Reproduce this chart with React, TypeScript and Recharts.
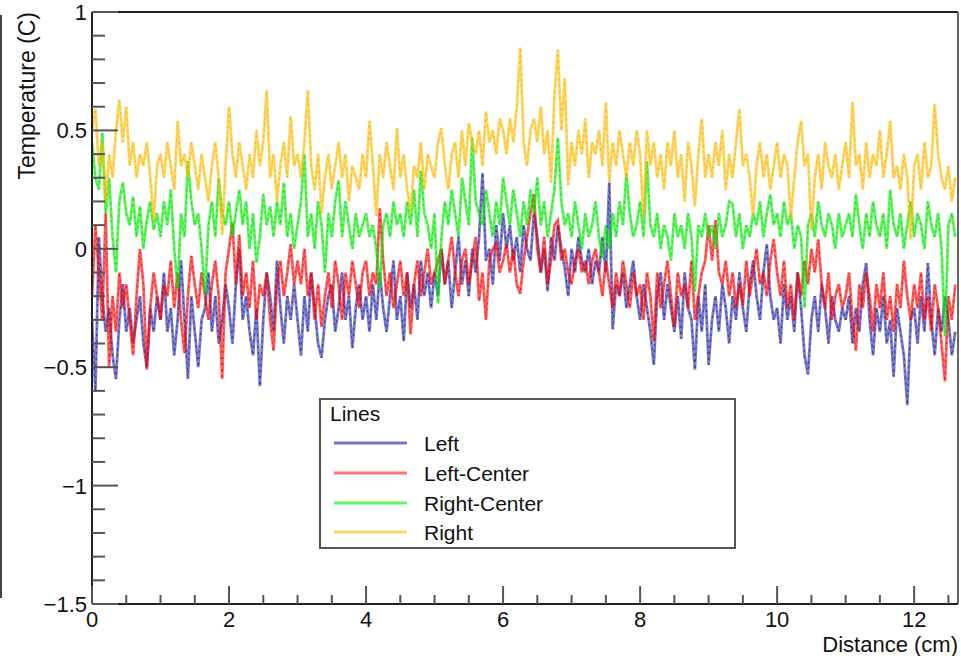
import React from 'react';
import { LineChart, Line, XAxis, YAxis, ReferenceLine } from 'recharts';

// Samples are taken every 0.05 cm along the probe.
const SAMPLE_STEP_CM = 0.05;

const leftTemps = [
  -0.3, -0.6, 0.05, -0.2, -0.35, -0.25, -0.45, -0.55, -0.3, -0.15, -0.35, -0.25, -0.4, -0.3, -0.2, -0.4, -0.5, -0.25, -0.35, -0.2,
  -0.3, -0.1, -0.35, -0.25, -0.45, -0.3, -0.05, -0.3, -0.55, -0.2, -0.35, -0.5, -0.3, -0.25, -0.1, -0.35, -0.2, -0.4, -0.3, -0.15,
  -0.25, -0.4, -0.15, 0.0, -0.3, -0.2, -0.35, -0.45, -0.25, -0.58, -0.3, -0.1, -0.2, -0.35, -0.05, -0.25, -0.4, -0.2, -0.3, -0.15,
  -0.3, -0.45, -0.2, -0.35, -0.1, -0.25, -0.4, -0.46, -0.3, -0.2, -0.15, -0.35, -0.25, -0.1, -0.3, -0.2, -0.42, -0.25, -0.15, -0.3,
  -0.2, -0.35, -0.15, -0.3, -0.1, -0.25, -0.35, -0.2, -0.05, -0.3, -0.2, -0.39, -0.1, -0.25, -0.15, -0.3, -0.05, -0.2, -0.1, -0.25,
  -0.1, -0.2, 0.0, -0.15, -0.05, -0.25, -0.1, 0.05, -0.15, -0.05, -0.2, 0.0, -0.1, 0.05, 0.32, -0.05, 0.0, -0.15, 0.1, -0.05,
  0.15, 0.0, 0.1, -0.05, 0.05, -0.1, 0.1, 0.0, -0.05, 0.15, 0.05, -0.1, 0.0, -0.18, 0.05, -0.05, 0.1, 0.0, -0.08, -0.2,
  0.0, -0.1, 0.05, -0.05, -0.1, 0.0, -0.15, -0.05, -0.1, 0.05, -0.1, 0.28, -0.34, -0.15, -0.2, -0.1, -0.25, -0.15, -0.05, -0.2,
  -0.3, -0.15, -0.25, -0.35, -0.49, -0.2, -0.1, -0.3, -0.15, -0.25, -0.35, -0.2, -0.38, -0.1, -0.25, -0.3, -0.51, -0.2, -0.35, -0.15,
  -0.49, -0.3, -0.2, -0.35, -0.15, -0.25, -0.4, -0.2, -0.3, -0.1, -0.25, -0.35, -0.15, -0.05, -0.2, -0.3, -0.1, 0.02, -0.2, -0.3,
  -0.25, -0.4, -0.15, -0.3, -0.2, -0.35, -0.1, -0.25, -0.45, -0.53, -0.3, -0.2, -0.35, -0.15, -0.25, -0.4, -0.2, -0.3, -0.35, -0.25,
  -0.3, -0.2, -0.4, -0.25, -0.35, -0.15, -0.06, -0.3, -0.45, -0.25, -0.35, -0.2, -0.4, -0.3, -0.54, -0.25, -0.35, -0.45, -0.66, -0.3,
  -0.25, -0.4, -0.2, -0.35, -0.06, -0.3, -0.45, -0.25, -0.35, -0.2, -0.3, -0.45, -0.35,
];

const leftCenterTemps = [
  -0.2, 0.1, -0.1, -0.3, 0.15, -0.5, -0.2, -0.35, -0.1, -0.25, -0.15, -0.3, -0.45, -0.2, 0.0, -0.15, -0.51, -0.25, -0.1, -0.2,
  -0.3, -0.15, -0.2, -0.05, -0.25, -0.1, -0.3, -0.44, -0.2, -0.03, -0.15, -0.25, -0.1, -0.2, -0.3, -0.15, -0.05, -0.2, -0.55, -0.1,
  0.0, 0.11, -0.15, 0.06, -0.2, -0.1, -0.25, -0.05, -0.3, -0.15, -0.2, -0.1, -0.3, -0.43, -0.15, -0.05, -0.2, -0.1, 0.02, -0.15,
  -0.05, -0.15, 0.0, -0.2, -0.1, -0.3, -0.15, -0.33, -0.2, -0.1, -0.25, -0.05, -0.15, -0.3, -0.1, -0.2, -0.05, -0.15, -0.25, -0.1,
  -0.05, -0.2, -0.1, -0.15, 0.17, -0.05, -0.2, -0.1, -0.25, -0.15, -0.05, -0.2, -0.1, -0.36, -0.15, -0.05, -0.2, -0.1, 0.0, -0.15,
  -0.1, -0.05, 0.0, -0.15, -0.05, 0.05, -0.1, -0.2, -0.05, 0.0, -0.15, -0.05, 0.05, -0.22, -0.1, -0.3, -0.05, 0.0, 0.02, -0.1,
  -0.05, 0.02, -0.1, 0.0, -0.15, -0.19, -0.05, 0.05, 0.15, 0.23, 0.0, -0.1, 0.05, -0.15, -0.05, 0.1, 0.12, -0.05, 0.0, -0.1,
  -0.15, -0.05, 0.0, -0.1, -0.05, -0.15, -0.05, 0.0, -0.1, -0.2, -0.05, -0.15, -0.25, -0.1, -0.2, -0.05, -0.15, -0.25, -0.1, -0.2,
  -0.15, -0.3, -0.1, -0.2, -0.39, -0.1, -0.25, -0.15, -0.05, -0.2, -0.33, -0.1, -0.2, -0.15, -0.25, -0.05, -0.3, -0.2, -0.1, -0.05,
  0.1, -0.05, 0.12, -0.1, -0.15, -0.05, -0.2, -0.1, -0.25, -0.15, -0.24, -0.05, -0.2, -0.1, 0.0, -0.15, -0.1, -0.2, -0.05, 0.04,
  -0.1, -0.2, -0.05, -0.25, -0.15, -0.3, -0.1, -0.2, -0.05, -0.15, 0.0, -0.1, 0.04, -0.15, -0.25, -0.1, -0.3, -0.2, -0.15, -0.25,
  -0.2, -0.1, -0.3, -0.43, -0.15, -0.25, -0.1, -0.2, -0.35, -0.15, -0.25, -0.1, -0.3, -0.2, -0.35, -0.15, -0.25, -0.05, -0.2, -0.3,
  -0.15, -0.25, -0.1, -0.3, -0.2, -0.35, -0.15, -0.25, -0.4, -0.56, -0.2, -0.3, -0.15,
];

const rightCenterTemps = [
  0.45, 0.3, 0.25, 0.49, 0.15, 0.3, 0.05, -0.1, 0.2, 0.28, 0.15, 0.1, 0.22, 0.05, 0.18, 0.0, 0.12, 0.2, 0.08, 0.15,
  0.05, 0.2, 0.1, 0.25, 0.0, -0.17, 0.15, 0.05, 0.37, 0.2, 0.1, 0.15, 0.0, -0.19, 0.1, 0.2, 0.05, 0.3, 0.15, 0.1,
  0.2, 0.05, 0.15, 0.25, 0.1, 0.2, 0.0, 0.15, -0.06, 0.05, 0.23, 0.1, 0.18, 0.05, 0.2, 0.1, 0.28, 0.05, 0.15, 0.0,
  0.1, 0.2, 0.4, 0.05, 0.15, 0.0, 0.2, 0.1, -0.1, 0.15, 0.05, 0.2, 0.29, 0.05, 0.2, 0.1, 0.0, 0.15, 0.05, 0.1,
  0.15, 0.05, 0.1, 0.0, -0.17, 0.1, 0.15, 0.05, 0.2, 0.1, 0.15, 0.05, 0.2, 0.1, 0.25, 0.05, 0.33, 0.15, 0.1, 0.0,
  0.15, -0.23, 0.05, 0.2, 0.1, 0.25, 0.15, 0.05, 0.3, 0.2, 0.1, 0.47, 0.2, 0.15, 0.1, 0.25, 0.15, 0.05, 0.2, 0.1,
  0.3, 0.2, 0.1, 0.25, 0.15, 0.05, 0.2, 0.1, 0.25, 0.15, 0.3, 0.1, 0.2, 0.05, 0.15, 0.25, 0.47, 0.2, 0.1, 0.15,
  0.05, 0.2, 0.1, 0.0, 0.15, 0.05, 0.1, 0.2, 0.05, -0.04, 0.1, 0.0, 0.15, 0.05, 0.2, 0.1, 0.32, 0.15, 0.05, 0.1,
  0.2, 0.05, 0.37, 0.1, 0.05, 0.15, 0.0, 0.1, 0.05, -0.05, 0.15, 0.05, 0.1, 0.0, 0.15, 0.05, -0.18, 0.1, 0.05, 0.15,
  0.05, 0.1, 0.0, 0.15, 0.05, 0.1, 0.2, 0.19, 0.05, 0.15, 0.0, 0.1, 0.05, 0.15, 0.1, 0.2, 0.05, 0.15, 0.23, 0.1,
  0.15, 0.05, 0.2, 0.1, 0.15, 0.0, 0.1, 0.05, -0.25, 0.1, 0.15, 0.05, 0.2, 0.1, 0.05, 0.15, 0.1, 0.0, 0.15, 0.05,
  0.1, 0.15, 0.05, 0.23, 0.1, 0.0, 0.15, 0.05, 0.2, 0.1, 0.05, 0.15, 0.0, 0.25, 0.1, 0.05, 0.15, 0.0, 0.1, 0.2,
  0.05, 0.15, 0.1, 0.0, 0.2, 0.1, 0.05, 0.15, 0.0, -0.37, 0.1, 0.15, 0.05,
];

const rightTemps = [
  0.5, 0.59, 0.35, 0.45, 0.2, 0.4, 0.3, 0.5, 0.63, 0.45, 0.6, 0.35, 0.45, 0.3, 0.4, 0.35, 0.45, 0.3, 0.12, 0.35,
  0.4, 0.3, 0.45, 0.35, 0.25, 0.54, 0.35, 0.4, 0.3, 0.45, 0.35, 0.25, 0.4, 0.3, 0.2, 0.35, 0.45, 0.3, 0.06, 0.35,
  0.6, 0.4, 0.3, 0.45, 0.35, 0.25, 0.4, 0.3, 0.5, 0.35, 0.45, 0.67, 0.3, 0.4, 0.2, 0.35, 0.45, 0.3, 0.56, 0.35,
  0.4, 0.3, 0.45, 0.67, 0.35, 0.25, 0.4, 0.15, 0.3, 0.4, 0.25, 0.35, 0.45, 0.3, 0.4, 0.2, 0.35, 0.3, 0.25, 0.4,
  0.3, 0.54, 0.35, 0.14, 0.4, 0.3, 0.45, 0.35, 0.25, 0.51, 0.3, 0.4, 0.25, 0.16, 0.35, 0.3, 0.45, 0.25, 0.4, 0.35,
  0.3, 0.45, 0.51, 0.35, 0.25, 0.4, 0.45, 0.3, 0.5, 0.35, 0.53, 0.45, 0.4, 0.5, 0.35, 0.58, 0.45, 0.5, 0.4, 0.55,
  0.5, 0.4, 0.55, 0.45, 0.6, 0.85, 0.45, 0.35, 0.5, 0.55, 0.45, 0.6, 0.4, 0.5, 0.28, 0.65, 0.84, 0.5, 0.72, 0.27,
  0.45, 0.35, 0.5, 0.4, 0.55, 0.3, 0.45, 0.4, 0.5, 0.35, 0.62, 0.28, 0.45, 0.35, 0.5, 0.4, 0.3, 0.45, 0.35, 0.5,
  0.4, 0.13, 0.5, 0.35, 0.45, 0.3, 0.4, 0.25, 0.45, 0.35, 0.5, 0.3, 0.4, 0.2, 0.45, 0.35, 0.18, 0.4, 0.55, 0.3,
  0.4, 0.3, 0.45, 0.35, 0.5, 0.25, 0.4, 0.3, 0.45, 0.59, 0.35, 0.4, 0.3, 0.14, 0.35, 0.45, 0.3, 0.4, 0.25, 0.35,
  0.45, 0.3, 0.4, 0.35, 0.13, 0.3, 0.45, 0.54, 0.35, 0.4, 0.08, 0.3, 0.4, 0.25, 0.45, 0.35, 0.3, 0.4, 0.25, 0.35,
  0.45, 0.3, 0.62, 0.35, 0.4, 0.25, 0.45, 0.3, 0.4, 0.35, 0.5, 0.3, 0.4, 0.54, 0.3, 0.35, 0.25, 0.4, 0.3, 0.04,
  0.35, 0.4, 0.25, 0.45, 0.3, 0.35, 0.61, 0.4, 0.3, 0.25, 0.35, 0.2, 0.3,
];

const seriesNames = ['Left', 'Left-Center', 'Right-Center', 'Right'];
const seriesKeys = ['left', 'leftCenter', 'rightCenter', 'right'];
// base colour (drawn translucent), darker core colour, legend swatch colour
const seriesColors = ['#2a2aa8', '#ff0000', '#00ee00', '#ffbb00'];
const seriesCoreColors = ['#0a1a90', '#e80000', '#00d000', '#f0b000'];
const legendColors = ['#7474c8', '#ff7373', '#66f566', '#ffd666'];

const xMajorTicks = [0, 2, 4, 6, 8, 10, 12];
const xAllTicks = [0, 0.5, 1, 1.5, 2, 2.5, 3, 3.5, 4, 4.5, 5, 5.5, 6, 6.5, 7, 7.5, 8, 8.5, 9, 9.5, 10, 10.5, 11, 11.5, 12, 12.5];
const yMajorTicks = [-1.5, -1, -0.5, 0, 0.5, 1];
const yAllTicks = [
  -1.5, -1.4, -1.3, -1.2, -1.1, -1, -0.9, -0.8, -0.7, -0.6, -0.5, -0.4, -0.3, -0.2, -0.1,
  0, 0.1, 0.2, 0.3, 0.4, 0.5, 0.6, 0.7, 0.8, 0.9, 1,
];

const X_MAX = 12.64;
const FONT = "'Liberation Sans', Arial, Helvetica, sans-serif";

const n = Math.min(leftTemps.length, leftCenterTemps.length, rightCenterTemps.length, rightTemps.length);
const rows = Array.from({ length: n }, (_, i) => ({
  distance: Math.round(i * SAMPLE_STEP_CM * 100) / 100,
  left: leftTemps[i],
  leftCenter: leftCenterTemps[i],
  rightCenter: rightCenterTemps[i],
  right: rightTemps[i],
}));

const fmt = (v: number) => {
  const s = String(Math.abs(Math.round(v * 10) / 10));
  return v < -1e-9 ? '\u2212' + s : s;
};
const isMajor = (v: number, majors: number[]) => majors.some((m) => Math.abs(m - v) < 1e-6);

function YTick(props: any) {
  const { x, y, payload } = props;
  const v = payload.value;
  const major = isMajor(v, yMajorTicks);
  return (
    <g>
      <line x1={x} x2={x + (major ? 26 : 13)} y1={y} y2={y} stroke="#555" strokeWidth={2} />
      {major && (
        <text x={x - 5} y={y} dy={8} textAnchor="end" fontSize={22} fill="#111" fontFamily={FONT}>
          {fmt(v)}
        </text>
      )}
    </g>
  );
}

function XTick(props: any) {
  const { x, y, payload } = props;
  const v = payload.value;
  const major = isMajor(v, xMajorTicks);
  return (
    <g>
      <line x1={x} x2={x} y1={y} y2={y - (major ? 18 : 9)} stroke="#555" strokeWidth={2} />
      {major && (
        <text x={x} y={y} dy={23} textAnchor="middle" fontSize={22} fill="#111" fontFamily={FONT}>
          {fmt(v)}
        </text>
      )}
    </g>
  );
}

export default function App() {
  const legendRowY = [443, 473, 503, 532];
  return (
    <div style={{ position: 'absolute', left: 0, top: 0, width: 961, height: 656, background: '#fff' }}>
      <LineChart width={961} height={656} data={rows} margin={{ top: 12, right: 3, bottom: 0, left: 0 }}>
        <XAxis
          dataKey="distance"
          type="number"
          domain={[0, X_MAX]}
          ticks={xAllTicks}
          interval={0}
          height={52}
          tickSize={0}
          tickMargin={0}
          tickLine={false}
          axisLine={{ stroke: '#222', strokeWidth: 2 }}
          tick={<XTick />}
          allowDataOverflow
        />
        <YAxis
          type="number"
          domain={[-1.5, 1]}
          ticks={yAllTicks}
          interval={0}
          width={92}
          tickSize={0}
          tickMargin={0}
          tickLine={false}
          axisLine={{ stroke: '#222', strokeWidth: 2 }}
          tick={<YTick />}
          allowDataOverflow
        />
        <ReferenceLine y={1} stroke="#222" strokeWidth={2} />
        <ReferenceLine x={X_MAX} stroke="#666" strokeWidth={2} />
        {seriesKeys.flatMap((k, i) => [
          <Line
            key={k + '-base'}
            dataKey={k}
            name={seriesNames[i]}
            type="linear"
            stroke={seriesColors[i]}
            strokeOpacity={0.62}
            strokeWidth={2.8}
            dot={false}
            activeDot={false}
            isAnimationActive={false}
          />,
          <Line
            key={k + '-core'}
            dataKey={k}
            legendType="none"
            type="linear"
            stroke={seriesCoreColors[i]}
            strokeOpacity={0.75}
            strokeWidth={1}
            strokeDasharray="2 4"
            dot={false}
            activeDot={false}
            isAnimationActive={false}
          />,
        ])}
      </LineChart>
      <svg
        width={961}
        height={656}
        style={{ position: 'absolute', left: 0, top: 0, pointerEvents: 'none' }}
        fontFamily={FONT}
      >
        <line x1={1} x2={1} y1={15} y2={598} stroke="#444" strokeWidth={2} />
        <text transform="translate(35,12) rotate(-90)" textAnchor="end" fontSize={23} fill="#111">
          Temperature (C)
        </text>
        <text x={958} y={652} textAnchor="end" fontSize={22} fill="#111">
          Distance (cm)
        </text>
        <rect x={320} y={399} width={415} height={149} fill="#fff" stroke="#555" strokeWidth={2} />
        <text x={330} y={421} fontSize={21} fill="#111">
          Lines
        </text>
        {seriesNames.map((name, i) => (
          <g key={name}>
            <line x1={334} x2={407} y1={legendRowY[i]} y2={legendRowY[i]} stroke={legendColors[i]} strokeWidth={3} />
            <text x={424} y={legendRowY[i] + 7.5} fontSize={21} fill="#111">
              {name}
            </text>
          </g>
        ))}
      </svg>
    </div>
  );
}
